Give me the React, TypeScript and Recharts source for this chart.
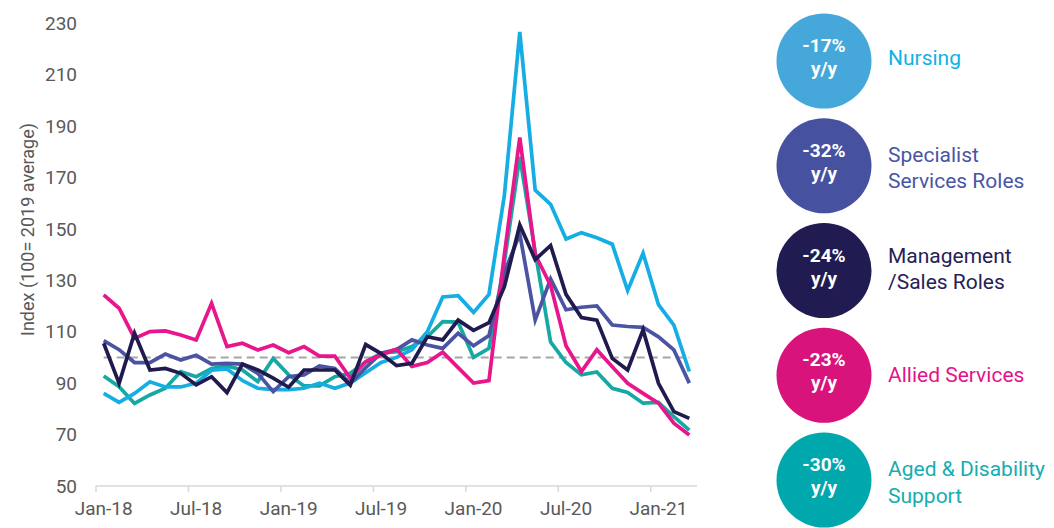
import React from 'react';
import { LineChart, Line, XAxis, YAxis, ReferenceLine } from 'recharts';

const months = [
  'Jan-18', 'Feb-18', 'Mar-18', 'Apr-18', 'May-18', 'Jun-18', 'Jul-18', 'Aug-18', 'Sep-18', 'Oct-18', 'Nov-18', 'Dec-18',
  'Jan-19', 'Feb-19', 'Mar-19', 'Apr-19', 'May-19', 'Jun-19', 'Jul-19', 'Aug-19', 'Sep-19', 'Oct-19', 'Nov-19', 'Dec-19',
  'Jan-20', 'Feb-20', 'Mar-20', 'Apr-20', 'May-20', 'Jun-20', 'Jul-20', 'Aug-20', 'Sep-20', 'Oct-20', 'Nov-20', 'Dec-20',
  'Jan-21', 'Feb-21', 'Mar-21',
];

// Job ad index by occupation group (100 = 2019 average)
const nursing = [
  86, 82.5, 86, 90.5, 88.5, 88.5, 90, 95, 95.5, 91, 88, 87.5,
  87.5, 88, 90, 88, 90, 94, 98, 100, 103, 110, 123.5, 124,
  117.5, 124.5, 163, 226.5, 165, 159.5, 146, 148.5, 146.5, 144, 126, 140.5,
  120.5, 112.5, 94.5,
];
const specialist = [
  106.5, 103, 98, 98, 101.3, 99, 100.8, 97.4, 97.7, 97.4, 93.8, 86.7,
  92.5, 93.2, 96.7, 95.7, 89.9, 96, 101.6, 103, 106.8, 104.8, 103.5, 109.4,
  104.5, 108.5, 133, 148, 114.5, 130.5, 118.5, 119.5, 120, 112.6, 112, 111.7,
  108, 102.9, 90,
];
const management = [
  105.5, 89.9, 109.4, 95.1, 95.7, 93.8, 89.3, 92.5, 86.3, 97.4, 95.1, 91.9,
  88.4, 95.1, 95.1, 95.1, 89.2, 105, 101.5, 96.8, 97.7, 108, 106.8, 114.5,
  110.5, 113.5, 127.5, 151.5, 138, 143.5, 124.5, 115.5, 114.5, 99.6, 95.1, 110.7,
  89.9, 78.9, 76.3,
];
const allied = [
  124.3, 119.1, 107.4, 110, 110.3, 108.7, 106.8, 121, 104.2, 105.5, 102.9, 104.8,
  101.8, 104.2, 100.5, 100.5, 92, 98.3, 101, 103.2, 96.5, 98, 102, 96,
  90, 91, 140, 185.5, 140, 128, 104.5, 94.5, 103, 96.4, 89.9, 86,
  82.2, 74.4, 69.8,
];
const aged = [
  92.8, 88.6, 82.1, 85.4, 88, 94.5, 92.5, 95.7, 96.7, 95.1, 90.6, 99.6,
  93.2, 88.9, 88.9, 92.5, 93.8, 98.3, 101.6, 102.2, 104.2, 108, 113.9, 113.7,
  100, 103.5, 137, 178, 141, 106, 98, 93.2, 94.3, 88, 86.4, 82.2,
  82.5, 77, 71.7,
];

const yTicks = [50, 70, 90, 110, 130, 150, 170, 190, 210, 230];
const baseline = 100;

const data = months.map((month, i) => ({
  month,
  nursing: nursing[i],
  specialist: specialist[i],
  management: management[i],
  allied: allied[i],
  aged: aged[i],
}));

// drawn bottom to top
const series = [
  { key: 'aged', color: '#17a8a3' },
  { key: 'nursing', color: '#14ade4' },
  { key: 'specialist', color: '#4b53a3' },
  { key: 'allied', color: '#e8158b' },
  { key: 'management', color: '#1f1b4e' },
];

const legendItems = [
  { change: '-17%', lines: ['Nursing'], circle: '#46a8da', text: '#10b0e8', dy: 4 },
  { change: '-32%', lines: ['Specialist', 'Services Roles'], circle: '#4651a0', text: '#4b55a6', dy: -4 },
  { change: '-24%', lines: ['Management', '/Sales Roles'], circle: '#201c52', text: '#262156', dy: -8 },
  { change: '-23%', lines: ['Allied Services'], circle: '#d8137b', text: '#e6128b', dy: 7 },
  { change: '-30%', lines: ['Aged & Disability', 'Support'], circle: '#00a7ad', text: '#16adb0', dy: -4 },
];

const GREY = '#595959';
const CHART_W = 720;
const CHART_H = 528;
const MARGIN = { top: 23, right: 23, bottom: 0, left: 0 };
const Y_AXIS_W = 96;
const X_AXIS_H = 42;
const HALF_BAND = (CHART_W - MARGIN.left - MARGIN.right - Y_AXIS_W) / months.length / 2;

// month label centred on the point, tick mark on the band edge
function MonthTick({ x, y, payload }: any) {
  return (
    <g>
      <line x1={x - HALF_BAND} x2={x - HALF_BAND} y1={y - 8} y2={y - 2} stroke="#d9d9d9" strokeWidth={1.5} />
      <text x={x} y={y + 8} dy="0.71em" textAnchor="middle" fill={GREY} fontSize={19}>
        {payload.value}
      </text>
    </g>
  );
}

function IndexLabel({ viewBox }: any) {
  const cx = 27;
  const cy = viewBox.y + viewBox.height / 2 - 25;
  return (
    <text
      x={cx}
      y={cy}
      transform={`rotate(-90 ${cx} ${cy})`}
      textAnchor="middle"
      dominantBaseline="central"
      fill={GREY}
      fontSize={18}
    >
      Index (100= 2019 average)
    </text>
  );
}

function ChangeLegend() {
  const cx = 824;
  const r = 47.5;
  return (
    <svg width={1054} height={528} style={{ position: 'absolute', left: 0, top: 0, pointerEvents: 'none' }}>
      {legendItems.map((item, k) => {
        const cy = 61 + k * 104.75;
        const firstBase = cy + item.dy;
        return (
          <g key={item.change + k}>
            <circle cx={cx} cy={cy} r={r} fill={item.circle} />
            <text x={cx} y={cy - 9} textAnchor="middle" fill="#fff" fontWeight={700} fontSize={19}>
              {item.change}
            </text>
            <text x={cx} y={cy + 14} textAnchor="middle" fill="#fff" fontWeight={700} fontSize={19}>
              y/y
            </text>
            {item.lines.map((line, j) => (
              <text key={line} x={888} y={firstBase + j * 26.5} fill={item.text} fontSize={21}>
                {line}
              </text>
            ))}
          </g>
        );
      })}
    </svg>
  );
}

export default function App() {
  return (
    <div
      style={{
        position: 'absolute',
        left: 0,
        top: 0,
        width: 1054,
        height: 528,
        background: '#fff',
        fontFamily: 'Roboto, sans-serif',
      }}
    >
      <LineChart width={CHART_W} height={CHART_H} data={data} margin={MARGIN}>
        <XAxis
          dataKey="month"
          scale="band"
          interval={5}
          tickLine={false}
          axisLine={{ stroke: '#d9d9d9', strokeWidth: 1.5 }}
          height={X_AXIS_H}
          tick={<MonthTick />}
        />
        <YAxis
          domain={[50, 230]}
          ticks={yTicks}
          axisLine={false}
          tickLine={false}
          width={Y_AXIS_W}
          tickMargin={13}
          tick={{ fill: GREY, fontSize: 19 }}
          label={<IndexLabel />}
        />
        <ReferenceLine
          segment={[
            { x: months[0], y: baseline },
            { x: months[months.length - 1], y: baseline },
          ]}
          stroke="#a6a6a6"
          strokeWidth={2}
          strokeDasharray="8 5"
        />
        {series.map((s) => (
          <Line
            key={s.key}
            type="linear"
            dataKey={s.key}
            stroke={s.color}
            strokeWidth={3.7}
            dot={false}
            activeDot={false}
            isAnimationActive={false}
          />
        ))}
      </LineChart>
      <ChangeLegend />
    </div>
  );
}
